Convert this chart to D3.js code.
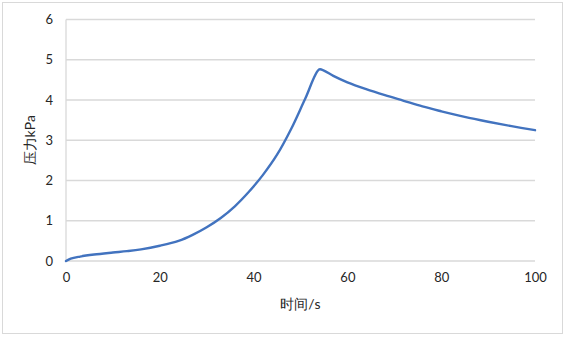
<!DOCTYPE html>
<html>
<head>
<meta charset="utf-8">
<script src="https://cdn.jsdelivr.net/npm/d3@7"></script>
<style>
  body { margin: 0; background: #fff; }
  svg text { font-family: Lato, "Open Sans", sans-serif; fill: #262626; }
</style>
</head>
<body>
<div id="chart"></div>
<script>
// chart size
var svgWidth = 567;
var svgHeight = 338;
var margin = {top: 19.5, right: 32, bottom: 77, left: 66};

// data
var timeS = [0, 1, 3, 6, 10, 13, 16, 20, 24, 27, 30, 33, 36, 39, 42, 45, 48, 51, 54, 55, 57, 60, 64, 68, 72, 76, 80, 85, 90, 95, 100];
var pressureKPa = [0, 0.06, 0.11, 0.16, 0.21, 0.245, 0.29, 0.38, 0.5, 0.65, 0.84, 1.07, 1.36, 1.72, 2.14, 2.64, 3.28, 4.03, 4.76, 4.73, 4.6, 4.44, 4.27, 4.12, 3.98, 3.84, 3.72, 3.58, 3.46, 3.35, 3.25];
var xTicks = [0, 20, 40, 60, 80, 100];
var yTicks = [0, 1, 2, 3, 4, 5, 6];
var xTitle = "时间/s";
var yTitle = "压力kPa";

var w = svgWidth - margin.left - margin.right;
var h = svgHeight - margin.top - margin.bottom;

var svg = d3.select('#chart')
    .append('svg')
    .attr('width', svgWidth)
    .attr('height', svgHeight);

// outer frame
svg.append('rect')
    .attr('x', 2.5).attr('y', 2.5)
    .attr('width', 560).attr('height', 331)
    .attr('fill', 'none')
    .attr('stroke', '#d9d9d9');

var g = svg.append('g')
    .attr('transform', 'translate(' + margin.left + ',' + margin.top + ')');

var x = d3.scaleLinear().domain([0, 100]).range([0, w]);
var y = d3.scaleLinear().domain([0, 6]).range([h, 0]);

// gridlines
g.selectAll('line.grid')
    .data(yTicks)
    .enter()
    .append('line')
    .attr('class', 'grid')
    .attr('x1', 0).attr('x2', w)
    .attr('y1', d => y(d)).attr('y2', d => y(d))
    .attr('stroke', '#d9d9d9')
    .attr('stroke-width', 1.3);

// vertical axis line
g.append('line')
    .attr('x1', 0).attr('x2', 0)
    .attr('y1', 0).attr('y2', h)
    .attr('stroke', '#d9d9d9')
    .attr('stroke-width', 1.3);

// x axis
var xAxis = g.append('g')
    .attr('transform', 'translate(0,' + h + ')')
    .call(d3.axisBottom(x).tickValues(xTicks).tickFormat(d3.format('d')).tickSize(0).tickPadding(12));
xAxis.select('.domain').remove();
xAxis.selectAll('text').style('font-size', '13px').attr('fill', '#262626');

// y axis
var yAxis = g.append('g')
    .call(d3.axisLeft(y).tickValues(yTicks).tickFormat(d3.format('d')).tickSize(0).tickPadding(13));
yAxis.select('.domain').remove();
yAxis.selectAll('text').style('font-size', '13px').attr('fill', '#262626');

// the curve
var line = d3.line()
    .x((d, i) => x(timeS[i]))
    .y(d => y(d))
    .curve(d3.curveCatmullRom.alpha(0.5));

g.append('path')
    .datum(pressureKPa)
    .attr('fill', 'none')
    .attr('stroke', '#4273bf')
    .attr('stroke-width', 2.4)
    .attr('stroke-linejoin', 'round')
    .attr('stroke-linecap', 'round')
    .attr('d', line);

// axis titles
svg.append('text')
    .attr('x', margin.left + w / 2)
    .attr('y', 309)
    .attr('text-anchor', 'middle')
    .style('font-size', '14px')
    .text(xTitle);

svg.append('text')
    .attr('transform', 'translate(35,' + (margin.top + h / 2) + ') rotate(-90)')
    .attr('text-anchor', 'middle')
    .style('font-size', '14px')
    .text(yTitle);
</script>
</body>
</html>
